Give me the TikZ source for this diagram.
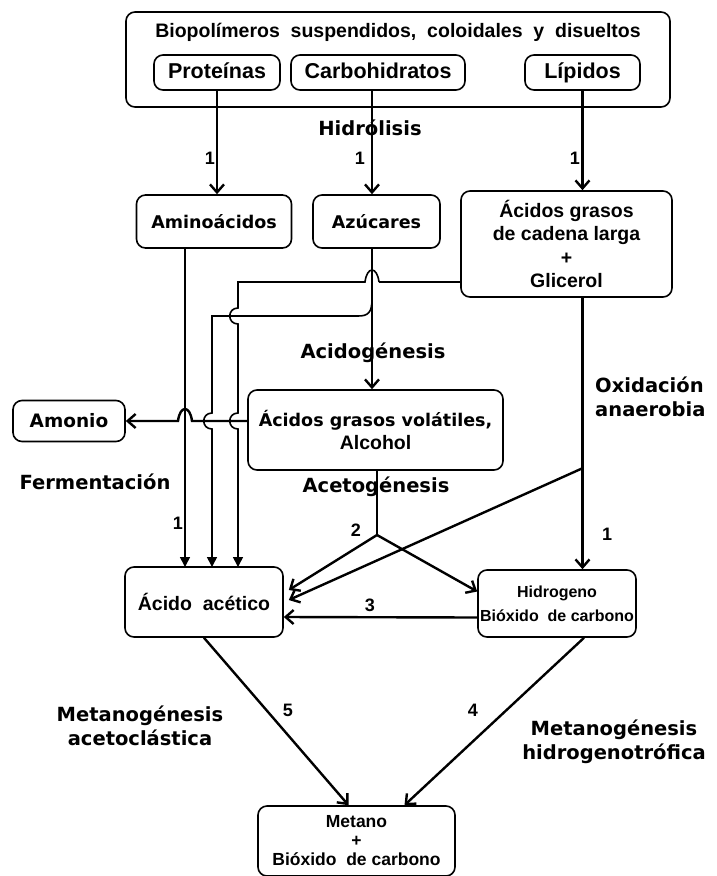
\documentclass[tikz,border=0pt]{standalone}
\usepackage{fontspec}
\setmainfont{Liberation Sans}
\newfontfamily\stagefont{DejaVu Sans}
\usetikzlibrary{arrows.meta,calc}
\tikzset{
    digestion/.style={
        x=1pt, y=-1pt,
        box/.style={draw, rounded corners=9pt, line width=1.6pt, align=center, inner sep=0pt,
            font=\fontsize{19.5}{23.5}\selectfont\bfseries},
        wbox/.style={box, font=\stagefont\fontsize{17.5}{24}\selectfont\bfseries},
        stage/.style={font=\stagefont\fontsize{19.5}{24}\selectfont\bfseries, align=center, inner sep=0pt},
        num/.style={font=\fontsize{18}{18}\selectfont\bfseries, inner sep=0pt},
        link/.style={line width=2.4pt},
        flow/.style={line width=2.4pt, -{Straight Barb[length=8pt,width=14pt]}},
        ferm/.style={line width=1.6pt, -{Triangle[length=10pt,width=10pt]}},
    },
}

\begin{document}
\begin{tikzpicture}[digestion]
    \useasboundingbox (0,0) rectangle (717,876);
    \node[box, minimum width=544, minimum height=95] (bio) at (398,59.5) {};
    \node[box, draw=none] (biot) at (398,32) {Biopolímeros\ \ suspendidos,\ \ coloidales\ \ y\ \ disueltos};
    \node[box, minimum width=126, minimum height=35, text height=15pt, text depth=4pt,
        font=\fontsize{21.5}{24}\selectfont\bfseries] (prot) at (217,72.5) {Proteínas};
    \node[box, minimum width=174, minimum height=35, text height=15pt, text depth=4pt,
        font=\fontsize{21.5}{24}\selectfont\bfseries] (carb) at (378,72.5) {Carbohidratos};
    \node[box, minimum width=115, minimum height=35, text height=15pt, text depth=4pt,
        font=\fontsize{21.5}{24}\selectfont\bfseries] (lip)  at (582.5,72.5) {Lípidos};

    \node[wbox, minimum width=155, minimum height=53]  (amino)  at (214,221.5) {Aminoácidos};
    \node[wbox, minimum width=127, minimum height=53]  (azuc)   at (376.5,221.5) {Azúcares};
    \node[box, minimum width=211, minimum height=106] (agcl)   at (566.5,244) {Ácidos grasos\\de cadena larga\\+\\Glicerol};
    \node[wbox, minimum width=112, minimum height=41, font=\stagefont\fontsize{18.5}{24}\selectfont\bfseries]
        (amonio) at (69,421) {Amonio};
    \node[box, minimum width=255, minimum height=80]  (agv)    at (375.5,430)
        {{\stagefont\fontsize{17.5}{24}\selectfont Ácidos grasos volátiles,}\\Alcohol};
    \node[box, minimum width=158, minimum height=70]  (acet)   at (204,602) {Ácido\ \ acético};
    \node[box, minimum width=158, minimum height=67, font=\fontsize{16}{24}\selectfont\bfseries] (hidro) at (557,603.5)
        {Hidrogeno\\Bióxido\ \ de\ carbono};
    \node[box, minimum width=197, minimum height=70, font=\fontsize{17.5}{19}\selectfont\bfseries] (metano) at (356.5,841)
        {Metano\\+\\Bióxido\ \ de\ carbono};

    \coordinate (sx) at (372,0);
    \coordinate (ka) at (238,282);
    \coordinate (kb) at (212,316);
    \coordinate (f1) at (185,567);
    \coordinate (f2) at (212,567);
    \coordinate (f3) at (238,567);
    \coordinate (split) at (377,535);
    \coordinate (ox) at (583,468);

    \draw[flow] (prot.south) -- (prot.south |- amino.north);
    \draw[flow] (carb.south -| sx) -- (sx |- azuc.north);
    \draw[flow] (lip.south) -- (lip.south |- agcl.north);
    \draw[flow] (sx |- azuc.south) -- (sx |- agv.north);
    \draw[flow] (lip.south |- agcl.south) -- (lip.south |- hidro.north);

    \draw[ferm] (f1 |- amino.south) -- (f1);
    \draw[flow] (agv.west |- amonio.east) -- ($(f1 |- amonio.east)+(7,0)$)
        .. controls +(-2,-16) and +(2,-16) .. ++(-14,0) -- (amonio.east);
    \draw[ferm] ($(sx |- azuc.south)+(0,50)$) .. controls +(0,14) and +(10,0) .. ($(sx |- kb)+(-14,0)$)
        -- (kb) -- ($(kb |- amonio.east)+(0,-8)$) .. controls +(-11,0) and +(-11,0) .. ++(0,16) -- (f2);
    \draw[link] ($(agcl.west)+(0,38)$) -- ($(sx |- ka)+(7,0)$);
    \draw[ferm] ($(sx |- ka)+(7,0)$) .. controls +(-2,-16) and +(2,-16) .. ++(-14,0) -- (ka)
        -- ($(ka |- kb)+(0,-8)$) .. controls +(-11,0) and +(-11,0) .. ++(0,16)
        -- ($(ka |- amonio.east)+(0,-8)$) .. controls +(-11,0) and +(-11,0) .. ++(0,16) -- (f3);

    \draw[link] (agv.south -| split) -- (split);
    \draw[flow] (split) -- ($(acet.east)+(5,-12)$);
    \draw[flow] (split) -- ($(hidro.west)+(0,-12)$);
    \draw[flow] (ox) -- ($(acet.east)+(5,-2)$);
    \draw[flow] ($(hidro.west)+(0,14)$) -- ($(acet.east)+(0,15)$);
    \draw[flow] (acet.south) -- ($(metano.north)+(-8,0)$);
    \draw[flow] ($(hidro.south)+(27,0)$) -- ($(metano.north)+(48,0)$);

    \node[stage] (hidrol) at (370,128) {Hidrólisis};
    \node[stage] (acido)  at (373,353) {Acidogénesis};
    \node[stage] (aceto)  at (376,487) {Acetogénesis};
    \node[stage] (ferment) at (95,482) {Fermentación};
    \node[stage, align=left, anchor=west] (oxid) at (595,397) {Oxidación\\anaerobia};
    \node[stage] (mace)  at (140,726) {Metanogénesis\\acetoclástica};
    \node[stage] (mhid)  at (614,742) {Metanogénesis\\hidrogenotrófica};

    \node[num] (n1a) at (210,158) {1};
    \node[num] (n1b) at (360,158) {1};
    \node[num] (n1c) at (575,158) {1};
    \node[num] (n1d) at (178,523) {1};
    \node[num] (n1e) at (607,534) {1};
    \node[num] (n2)  at (356,530) {2};
    \node[num] (n3)  at (370,605) {3};
    \node[num] (n5)  at (288,710) {5};
    \node[num] (n4)  at (473,710) {4};
\end{tikzpicture}
\end{document}
